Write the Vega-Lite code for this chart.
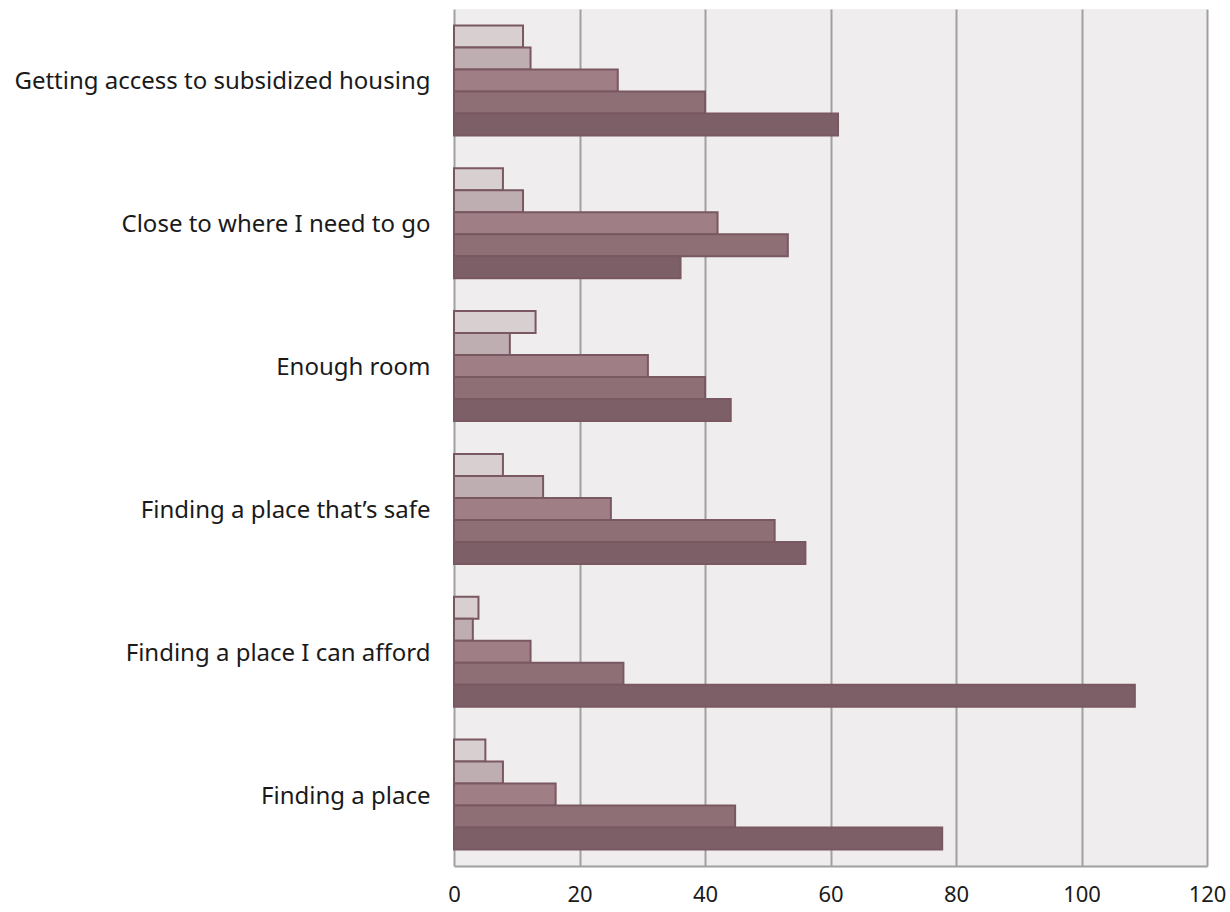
{
  "$schema": "https://vega.github.io/schema/vega-lite/v6.json",
  "width": 753,
  "height": 857,
  "autosize": {"type": "none"},
  "padding": {"left": 454, "top": 9, "right": 23, "bottom": 46},
  "background": "#ffffff",
  "config": {
    "view": {"stroke": null, "fill": "#f0edef"},
    "font": "Noto Sans"
  },
  "data": {
    "values": [
      {"category": "Getting access to subsidized housing", "level": "Level 1", "value": 11},
      {"category": "Getting access to subsidized housing", "level": "Level 2", "value": 12.2},
      {"category": "Getting access to subsidized housing", "level": "Level 3", "value": 26.1},
      {"category": "Getting access to subsidized housing", "level": "Level 4", "value": 40},
      {"category": "Getting access to subsidized housing", "level": "Level 5", "value": 61.2},
      {"category": "Close to where I need to go", "level": "Level 1", "value": 7.8},
      {"category": "Close to where I need to go", "level": "Level 2", "value": 11},
      {"category": "Close to where I need to go", "level": "Level 3", "value": 42},
      {"category": "Close to where I need to go", "level": "Level 4", "value": 53.2},
      {"category": "Close to where I need to go", "level": "Level 5", "value": 36.1},
      {"category": "Enough room", "level": "Level 1", "value": 13},
      {"category": "Enough room", "level": "Level 2", "value": 8.9},
      {"category": "Enough room", "level": "Level 3", "value": 30.9},
      {"category": "Enough room", "level": "Level 4", "value": 40},
      {"category": "Enough room", "level": "Level 5", "value": 44.1},
      {"category": "Finding a place that’s safe", "level": "Level 1", "value": 7.8},
      {"category": "Finding a place that’s safe", "level": "Level 2", "value": 14.2},
      {"category": "Finding a place that’s safe", "level": "Level 3", "value": 25},
      {"category": "Finding a place that’s safe", "level": "Level 4", "value": 51.1},
      {"category": "Finding a place that’s safe", "level": "Level 5", "value": 56},
      {"category": "Finding a place I can afford", "level": "Level 1", "value": 3.9},
      {"category": "Finding a place I can afford", "level": "Level 2", "value": 3},
      {"category": "Finding a place I can afford", "level": "Level 3", "value": 12.2},
      {"category": "Finding a place I can afford", "level": "Level 4", "value": 27},
      {"category": "Finding a place I can afford", "level": "Level 5", "value": 108.5},
      {"category": "Finding a place", "level": "Level 1", "value": 5},
      {"category": "Finding a place", "level": "Level 2", "value": 7.8},
      {"category": "Finding a place", "level": "Level 3", "value": 16.2},
      {"category": "Finding a place", "level": "Level 4", "value": 44.8},
      {"category": "Finding a place", "level": "Level 5", "value": 77.8}
    ]
  },
  "mark": {"type": "bar", "stroke": "#7a5862", "strokeWidth": 2},
  "encoding": {
    "y": {
      "field": "category",
      "type": "nominal",
      "sort": null,
      "scale": {"paddingInner": 0.23, "paddingOuter": 0.115},
      "axis": {
        "title": null,
        "domain": false,
        "ticks": false,
        "grid": false,
        "labelPadding": 24,
        "labelOffset": 2,
        "labelFontSize": 24,
        "labelColor": "#1a1a1a",
        "labelLimit": 500
      }
    },
    "yOffset": {"field": "level", "type": "nominal", "sort": null},
    "x": {
      "field": "value",
      "type": "quantitative",
      "scale": {"domain": [0, 120], "nice": false},
      "axis": {
        "title": null,
        "values": [0, 20, 40, 60, 80, 100, 120],
        "grid": true,
        "gridColor": "#a0a0a0",
        "gridWidth": 2,
        "gridOpacity": 1,
        "domain": true,
        "domainColor": "#a0a0a0",
        "domainWidth": 2,
        "ticks": false,
        "labelFlush": false,
        "labelPadding": 18,
        "labelFontSize": 22,
        "labelColor": "#1a1a1a"
      }
    },
    "color": {
      "field": "level",
      "type": "nominal",
      "sort": null,
      "scale": {"range": ["#d8cfd1", "#bfaeb1", "#a07e85", "#8e6f76", "#7d5f68"]},
      "legend": null
    }
  }
}
